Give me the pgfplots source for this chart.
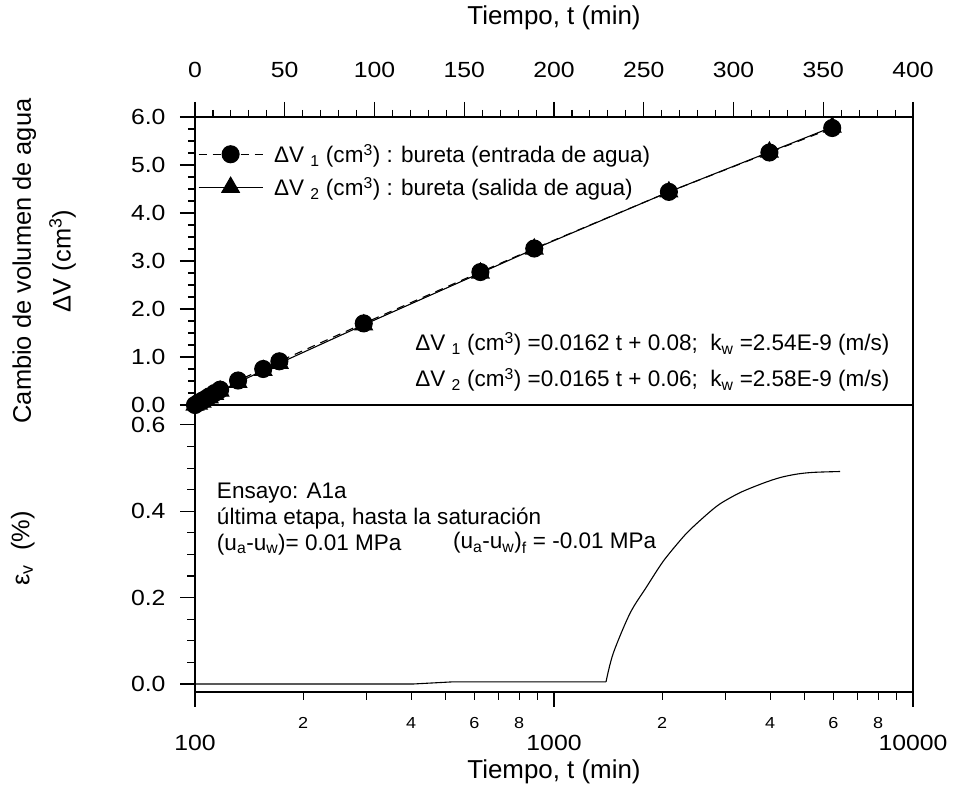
\documentclass[border=0pt]{standalone}
\usepackage{fontspec}
\setmainfont{Liberation Sans}
\newfontfamily\tickfont[FakeStretch=1.13]{Liberation Sans}
\usepackage{pgfplots}
\pgfplotsset{compat=1.18}
\newcommand{\fs}{\fontsize{22.6}{26}\selectfont}
\newcommand{\ft}{\tickfont\fontsize{22}{24}\selectfont}
\newcommand{\fl}{\fontsize{26}{30}\selectfont}
\begin{document}
\begin{tikzpicture}
\path[use as bounding box] (0bp,0bp) rectangle (954bp,787bp);
\begin{axis}[
  at={(195bp,382bp)}, anchor=south west,
  scale only axis, width=718bp, height=288bp,
  xmin=0, xmax=400, ymin=0, ymax=6,
  xtick={0,50,...,400}, minor x tick num=4,
  ytick={0,1,...,6}, minor y tick num=3,
  xtick pos=right, xticklabel pos=right,
  ytick pos=left, yticklabel pos=left,
  tick align=outside,
  major tick length=15bp, minor tick length=7bp,
  axis line style={line width=1.2bp},
  every tick/.style={black, line width=1.1bp},
  /pgf/number format/assume math mode=true,
  ticklabel style={font=\ft},
  xticklabel style={yshift=21bp},
  yticklabel style={xshift=-11bp, /pgf/number format/.cd, fixed, fixed zerofill, precision=1},
  xlabel={Tiempo, t (min)},
  xlabel style={font=\fl, at={(axis description cs:0.5,1.344)}, anchor=center},
  ylabel={Cambio de volumen de agua\\ΔV (cm\textsuperscript{3})},
  ylabel style={font=\fontsize{25.5}{40}\selectfont, align=center, at={(axis description cs:-0.2100,0.5)}, anchor=center},
  legend cell align=left,
  legend style={draw=none, fill=none, font=\fs, at={(axis description cs:0.004,0.913)}, anchor=north west, inner sep=0pt, row sep=9bp, /tikz/every odd column/.append style={column sep=9bp}},
  legend image code/.code={\draw[mark repeat=2,mark phase=2,#1] plot coordinates {(0bp,0bp) (32bp,0bp) (64bp,0bp)};},
]
\addplot[black, line width=1.1bp, dash pattern=on 8bp off 6bp, mark=*, mark size=8.5bp, mark options={solid}] coordinates {
(0,0.00) (2,0.05) (4,0.09) (6,0.13) (8,0.18) (11,0.25) (14,0.32) (24,0.51) (38,0.75) (47,0.91) (94,1.70) (159,2.77) (189,3.26) (264,4.44) (320,5.26) (355,5.77)};
\addlegendentry{ΔV \textsubscript{1} (cm\textsuperscript{3}) : bureta (entrada de agua)}
\addplot[black, line width=1.1bp, mark=triangle*, mark size=10bp] coordinates {
(0,0.00) (2,0.02) (4,0.06) (6,0.10) (8,0.15) (11,0.22) (14,0.29) (24,0.47) (38,0.72) (47,0.87) (94,1.67) (159,2.75) (189,3.25) (264,4.44) (320,5.27) (355,5.79)};
\addlegendentry{ΔV \textsubscript{2} (cm\textsuperscript{3}) : bureta (salida de agua)}
\node[anchor=base west, font=\fs, inner sep=0pt] at (axis cs:122.6,1.125) {ΔV \textsubscript{1} (cm\textsuperscript{3}) =0.0162 t + 0.08;\ \ k\textsubscript{w} =2.54E-9 (m/s)};
\node[anchor=base west, font=\fs, inner sep=0pt] at (axis cs:122.6,0.375) {ΔV \textsubscript{2} (cm\textsuperscript{3}) =0.0165 t + 0.06;\ \ k\textsubscript{w} =2.58E-9 (m/s)};
\end{axis}
\begin{axis}[
  at={(195bp,382bp)}, anchor=north west,
  scale only axis, width=718bp, height=287bp,
  xmode=log, xmin=100, xmax=10000, ymin=-0.0185, ymax=0.646,
  xtick={100,1000,10000}, xticklabels={100,1000,10000},
  minor xtick={200,300,400,500,600,700,800,900,2000,3000,4000,5000,6000,7000,8000,9000},
  extra x ticks={200,400,600,800,2000,4000,6000,8000},
  extra x tick labels={2,4,6,8,2,4,6,8},
  extra x tick style={tick style={draw=none}, xticklabel style={font=\tickfont\fontsize{16}{18}\selectfont, inner sep=1bp, yshift=16bp}},
  ytick={0,0.2,0.4,0.6}, minor y tick num=3,
  xtick pos=left, ytick pos=left,
  tick align=outside,
  major tick length=15bp, minor tick length=8bp,
  axis line style={line width=1.2bp},
  every tick/.style={black, line width=1.1bp},
  /pgf/number format/assume math mode=true,
  ticklabel style={font=\ft},
  xticklabel style={yshift=-25bp},
  yticklabel style={xshift=-11bp, /pgf/number format/.cd, fixed, fixed zerofill, precision=1},
  xlabel={Tiempo, t (min)},
  xlabel style={font=\fl, at={(axis description cs:0.5,-0.279)}, anchor=center},
  ylabel={ε\textsubscript{v}\ \ (\%)},
  ylabel style={font=\fontsize{25.5}{28}\selectfont, at={(axis description cs:-0.2400,0.5)}, anchor=center},
]
\addplot[black, line width=1.1bp] coordinates {
(100,0) (405,0) (523,0.005) (1396,0.005)};
\addplot[black, line width=1.1bp, smooth, tension=0.5] coordinates {
(1396,0.005) (1462,0.071) (1629,0.164) (1811,0.225) (2014,0.284) (2244,0.332) (2392,0.357) (2660,0.392) (2899,0.417) (3296,0.443) (3826,0.465) (4266,0.478) (4746,0.486) (5276,0.490) (6265,0.492)};
\node[anchor=north west, align=left, font=\fs, inner sep=0pt] at (axis cs:115,0.466) {Ensayo: A1a\\última etapa, hasta la saturación\\(u\textsubscript{a}-u\textsubscript{w})= 0.01 MPa};
\node[anchor=base west, font=\fs, inner sep=0pt] at (axis cs:523,0.3127) {(u\textsubscript{a}-u\textsubscript{w})\textsubscript{f} = -0.01 MPa};
\end{axis}
\end{tikzpicture}
\end{document}
